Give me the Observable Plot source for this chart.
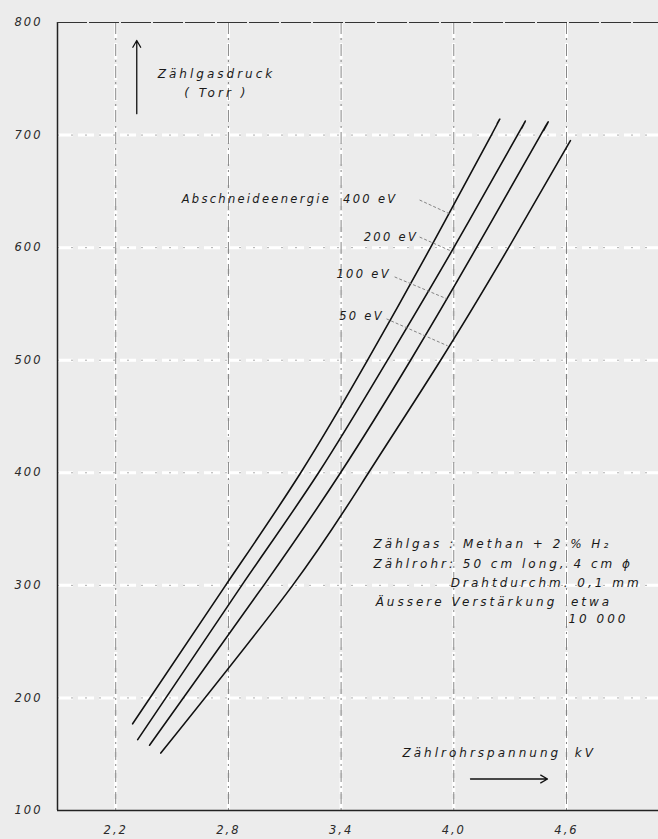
<!DOCTYPE html>
<html>
<head>
<meta charset="utf-8">
<script src="https://cdn.jsdelivr.net/npm/d3@7"></script>
<script src="https://cdn.jsdelivr.net/npm/@observablehq/plot@0.6"></script>
<style>
  html, body { margin: 0; padding: 0; background: #ececec; }
  #chart svg { display: block; }
</style>
</head>
<body>
<div id="chart"></div>
<script>
// ---- data ----
const seriesNames = ["400 eV", "200 eV", "100 eV", "50 eV"];
const volt400 = [2.29, 2.785, 3.185, 3.541, 3.876, 4.20, 4.231];
const press400 = [177, 300, 400, 500, 600, 700, 710];
const volt200 = [2.317, 2.871, 3.280, 3.647, 4.0, 4.339, 4.361];
const press200 = [163, 300, 400, 500, 600, 700, 706];
const volt100 = [2.38, 2.988, 3.397, 3.770, 4.121, 4.462, 4.478];
const press100 = [158, 300, 400, 500, 600, 700, 704];
const volt50 = [2.44, 3.142, 3.546, 3.930, 4.292, 4.621];
const press50 = [151, 300, 400, 500, 600, 695];

const xTicks = [2.2, 2.8, 3.4, 4.0, 4.6];
const yTicks = [100, 200, 300, 400, 500, 600, 700, 800];
const xGrid = [2.2, 2.8, 3.4, 4.0, 4.6];
const yGrid = [200, 300, 400, 500, 600, 700];

// curve labels (data coordinates) and leader lines
const labelTexts = ["Abschneideenergie  400 eV", "200 eV", "100 eV", "50 eV"];
const labelX = [3.70, 3.81, 3.665, 3.628];
const labelY = [643, 609.6, 576.7, 539.4];
const leadX1 = [3.818, 3.818, 3.685, 3.642];
const leadY1 = [642.3, 609.4, 574, 536.7];
const leadX2 = [3.978, 3.983, 3.962, 3.967];
const leadY2 = [630, 597.2, 554.6, 512.8];

// info block (left-aligned lines and right-aligned lines)
const infoStartLines = ["Zählgas : Methan + 2 % H₂", "Zählrohr: 50 cm long, 4 cm ϕ", "Äussere Verstärkung  etwa"];
const infoStartX = [3.573, 3.573, 3.584];
const infoStartY = [336.9, 319.1, 285.4];
const infoEndLines = ["Drahtdurchm. 0,1 mm", "10 000"];
const infoEndX = [5.0, 4.93];
const infoEndY = [302.2, 270.3];

// axis titles
const yTitle = ["Zählgasdruck", "( Torr )"];
const yTitleX = [2.424, 2.565];
const yTitleY = [754.4, 736.8];
const xTitle = "Zählrohrspannung  kV";
const xTitleX = 3.727, xTitleY = 151;
const yArrow = {x: 2.312, y1: 719, y2: 784};
const xArrow = {y: 128, x1: 4.089, x2: 4.499};

// ---- build tables ----
const curves = [];
[[volt400, press400], [volt200, press200], [volt100, press100], [volt50, press50]].forEach(([vs, ps], i) => {
  vs.forEach((v, j) => curves.push({series: seriesNames[i], v, p: ps[j]}));
});
const labels = labelTexts.map((t, i) => ({t, x: labelX[i], y: labelY[i]}));
const leaders = leadX1.map((x1, i) => ({x1, y1: leadY1[i], x2: leadX2[i], y2: leadY2[i]}));
const infoStart = infoStartLines.map((t, i) => ({t, x: infoStartX[i], y: infoStartY[i]}));
const infoEnd = infoEndLines.map((t, i) => ({t, x: infoEndX[i], y: infoEndY[i]}));
const yTitles = yTitle.map((t, i) => ({t, x: yTitleX[i], y: yTitleY[i]}));

const font = "'DejaVu Sans', sans-serif";
const textStyle = {fontStyle: "italic", fill: "#1a1a1a"};

const chart = Plot.plot({
  width: 658,
  height: 839,
  marginTop: 22,
  marginBottom: 29,
  marginLeft: 57,
  marginRight: 0,
  style: {background: "transparent", fontFamily: font, fontSize: "11.5px", fontStyle: "italic", color: "#2a2a2a"},
  x: {domain: [1.89, 5.09], ticks: xTicks, tickFormat: d => d.toFixed(1).replace(".", ","), tickSize: 0, tickPadding: 15, label: null},
  y: {domain: [100, 800], ticks: yTicks, tickSize: 0, tickPadding: 15, label: null},
  marks: [
    // grid
    Plot.ruleX(xGrid, {stroke: "#fff", strokeWidth: 3, strokeDasharray: "16,5"}),
    Plot.ruleY(yGrid, {stroke: "#fff", strokeWidth: 3, strokeDasharray: "16,5"}),
    Plot.ruleX(xGrid, {stroke: "#666", strokeWidth: 0.8, strokeDasharray: "12,4,2,4"}),
    Plot.ruleY(yGrid, {stroke: "#888", strokeWidth: 0.7, strokeDasharray: "2,12"}),
    // frame
    Plot.ruleX([1.89], {stroke: "#222", strokeWidth: 1.5}),
    Plot.ruleY([100], {stroke: "#222", strokeWidth: 1.5}),
    Plot.ruleY([800], {stroke: "#333", strokeWidth: 1.2, strokeDasharray: "30,2"}),
    // curves
    Plot.line(curves, {x: "v", y: "p", z: "series", curve: "natural", stroke: "#111", strokeWidth: 1.6}),
    // leaders
    Plot.link(leaders, {x1: "x1", y1: "y1", x2: "x2", y2: "y2", stroke: "#777", strokeWidth: 0.9, strokeDasharray: "3,2"}),
    // labels
    Plot.text(labels, {x: "x", y: "y", text: "t", textAnchor: "end", fontSize: 11.5, ...textStyle, className: "ls-label"}),
    Plot.text(infoStart, {x: "x", y: "y", text: "t", textAnchor: "start", fontSize: 12, ...textStyle, className: "ls-info"}),
    Plot.text(infoEnd, {x: "x", y: "y", text: "t", textAnchor: "end", fontSize: 12, ...textStyle, className: "ls-info"}),
    Plot.text(yTitles, {x: "x", y: "y", text: "t", textAnchor: "start", fontSize: 12, ...textStyle, className: "ls-info"}),
    Plot.text([xTitle], {x: xTitleX, y: xTitleY, text: d => d, textAnchor: "start", fontSize: 12, ...textStyle, className: "ls-info"}),
    Plot.arrow([yArrow], {x1: "x", x2: "x", y1: "y1", y2: "y2", stroke: "#111", strokeWidth: 1.3, headLength: 9}),
    Plot.arrow([xArrow], {x1: "x1", x2: "x2", y1: "y", y2: "y", stroke: "#111", strokeWidth: 1.3, headLength: 9})
  ]
});
// letter spacing to mimic stencil lettering
chart.querySelectorAll("g[aria-label='x-axis tick label'] text, g[aria-label='y-axis tick label'] text").forEach(t => t.setAttribute("letter-spacing", "2"));
chart.querySelectorAll(".ls-label text").forEach(t => t.setAttribute("letter-spacing", "2.3"));
chart.querySelectorAll(".ls-info text").forEach(t => t.setAttribute("letter-spacing", "3"));
document.getElementById("chart").appendChild(chart);
</script>
</body>
</html>
